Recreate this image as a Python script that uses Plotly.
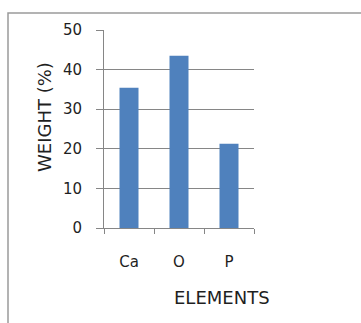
import plotly.graph_objects as go

categories = ["Ca", "O", "P"]
weights = [35.4, 43.5, 21.3]
y_ticks = [0, 10, 20, 30, 40, 50]

W, H = 361, 323
L, R, T, B = 104, 107, 30, 95
pw, ph = W - L - R, H - T - B

def px(x):
    return (x - L) / pw

def py(y):
    return 1 - (y - T) / ph

font = "DejaVu Sans, sans-serif"
txt = "#1f1f1f"
grid = "#868686"

fig = go.Figure(go.Bar(x=categories, y=weights, marker=dict(color="#4F81BD", line=dict(width=0)), width=0.38))

fig.update_layout(
    width=W, height=H,
    margin=dict(l=L, r=R, t=T, b=B),
    paper_bgcolor="white", plot_bgcolor="white",
    showlegend=False,
    font=dict(family=font, size=15, color=txt),
    xaxis=dict(
        type="category", tickson="boundaries", ticks="outside", ticklen=5,
        tickcolor=grid, showline=True, linecolor=grid, linewidth=1,
        showgrid=False, ticklabelstandoff=20, tickfont=dict(size=15, color=txt),
    ),
    yaxis=dict(
        range=[0, 50], tickvals=y_ticks, ticks="outside", ticklen=7,
        tickcolor=grid, showline=True, linecolor=grid, linewidth=1,
        showgrid=True, gridcolor=grid, gridwidth=1, zeroline=False,
        ticklabelstandoff=11, tickfont=dict(size=15, color=txt),
    ),
    shapes=[
        dict(type="rect", xref="paper", yref="paper",
             x0=px(8), x1=px(380), y0=py(340), y1=py(13),
             line=dict(color="#9a9a9a", width=1.5), fillcolor="rgba(0,0,0,0)", layer="below"),
    ],
    annotations=[
        dict(text="WEIGHT (%)", xref="paper", yref="paper", x=px(44), y=py(117),
             textangle=-90, showarrow=False, font=dict(size=18, color=txt),
             xanchor="center", yanchor="middle"),
        dict(text="ELEMENTS", xref="paper", yref="paper", x=px(222), y=py(297),
             showarrow=False, font=dict(size=18, color=txt),
             xanchor="center", yanchor="middle"),
    ],
)

fig.write_html("out.html")
